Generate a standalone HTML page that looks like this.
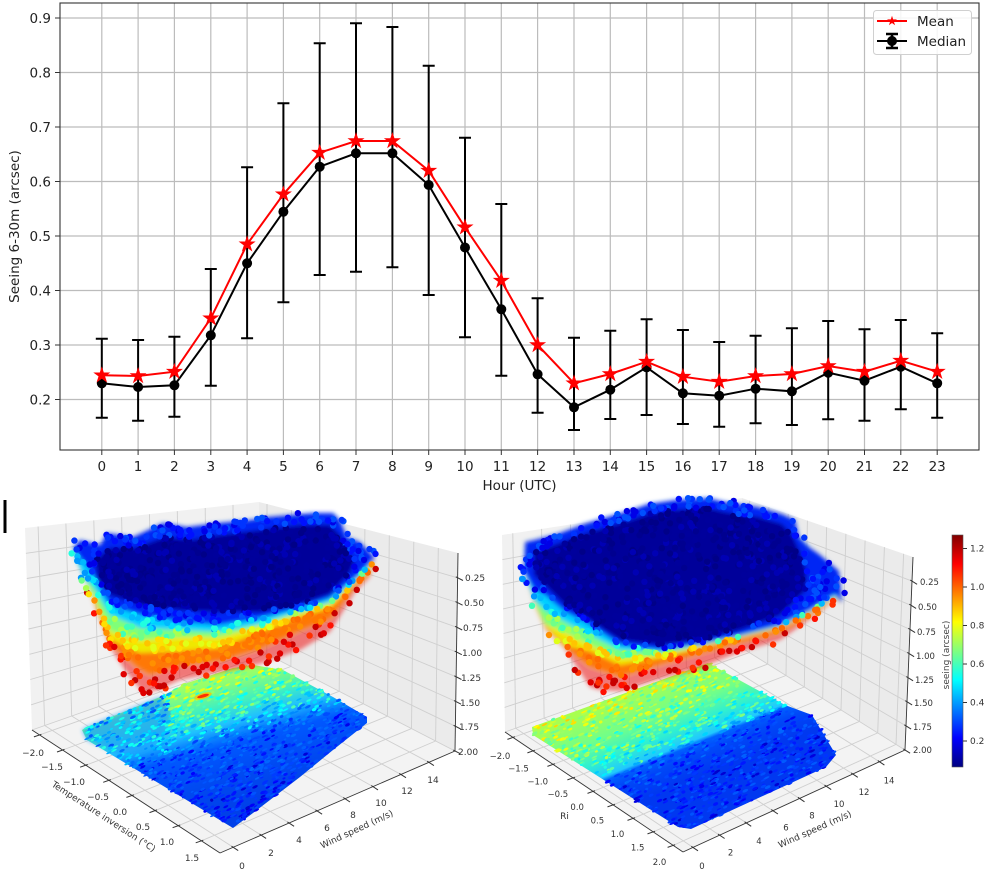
<!DOCTYPE html>
<html><head><meta charset="utf-8">
<style>
html,body{margin:0;padding:0;background:#fff;}
svg{display:block;font-family:"DejaVu Sans","Liberation Sans",sans-serif;}
</style></head><body>
<svg id="s" width="994" height="878" viewBox="0 0 994 878" xmlns="http://www.w3.org/2000/svg">
<defs>
 <path id="star" d="M0,-8L1.8,-2.48L7.61,-2.47L2.91,0.95L4.7,6.47L0,3.06L-4.7,6.47L-2.91,0.95L-7.61,-2.47L-1.8,-2.48Z"/>
 <filter id="bl" x="-10%" y="-10%" width="120%" height="120%"><feGaussianBlur stdDeviation="2"/></filter>
 <linearGradient id="fgL" gradientUnits="userSpaceOnUse" x1="200" y1="665" x2="240" y2="811">
  <stop offset="0" stop-color="#c8ff40"/><stop offset="0.15" stop-color="#90ff70"/><stop offset="0.3" stop-color="#40f0c0"/>
  <stop offset="0.42" stop-color="#20c0ff"/><stop offset="0.5" stop-color="#0a80ff"/><stop offset="0.56" stop-color="#0058ff"/>
  <stop offset="0.8" stop-color="#0048f0"/><stop offset="1" stop-color="#0040e8"/>
 </linearGradient>
 <linearGradient id="fgR" gradientUnits="userSpaceOnUse" x1="640" y1="690" x2="678" y2="784">
  <stop offset="0" stop-color="#a8ff50"/><stop offset="0.3" stop-color="#70ff8a"/><stop offset="0.5" stop-color="#30f0d0"/>
  <stop offset="0.66" stop-color="#20c8ff"/><stop offset="0.7" stop-color="#0060ff"/><stop offset="0.8" stop-color="#0048f8"/>
  <stop offset="1" stop-color="#0038f0"/>
 </linearGradient>
 <linearGradient id="cb" x1="0" y1="1" x2="0" y2="0">
  <stop offset="0" stop-color="#000080"/><stop offset="0.125" stop-color="#0000ff"/><stop offset="0.375" stop-color="#00ffff"/>
  <stop offset="0.625" stop-color="#ffff00"/><stop offset="0.875" stop-color="#ff0000"/><stop offset="1" stop-color="#800000"/>
 </linearGradient>
</defs>
<rect width="994" height="878" fill="#fff"/>

<!-- ================= TOP CHART ================= -->
<path d="M101.8,3V450M138.1,3V450M174.4,3V450M210.8,3V450M247.1,3V450M283.4,3V450M319.7,3V450M356,3V450M392.4,3V450M428.7,3V450M465,3V450M501.3,3V450M537.6,3V450M574,3V450M610.3,3V450M646.6,3V450M682.9,3V450M719.2,3V450M755.6,3V450M791.9,3V450M828.2,3V450M864.5,3V450M900.8,3V450M937.2,3V450" stroke="#bcbcbc" stroke-width="1.2" fill="none"/>
<path d="M60,399.5H979M60,345H979M60,290.5H979M60,236H979M60,181.5H979M60,127H979M60,72.5H979M60,18H979" stroke="#bcbcbc" stroke-width="1.2" fill="none"/>
<rect x="60" y="3" width="919" height="447" fill="none" stroke="#333" stroke-width="1.1"/>
<path d="M101.8,450v5M138.1,450v5M174.4,450v5M210.8,450v5M247.1,450v5M283.4,450v5M319.7,450v5M356,450v5M392.4,450v5M428.7,450v5M465,450v5M501.3,450v5M537.6,450v5M574,450v5M610.3,450v5M646.6,450v5M682.9,450v5M719.2,450v5M755.6,450v5M791.9,450v5M828.2,450v5M864.5,450v5M900.8,450v5M937.2,450v5M55,399.5h5M55,345h5M55,290.5h5M55,236h5M55,181.5h5M55,127h5M55,72.5h5M55,18h5" stroke="#333" stroke-width="1"/>
<g font-size="13.5" fill="#222" text-anchor="end">
 <text x="51" y="404.5">0.2</text><text x="51" y="350">0.3</text><text x="51" y="295.5">0.4</text><text x="51" y="241">0.5</text>
 <text x="51" y="186.5">0.6</text><text x="51" y="132">0.7</text><text x="51" y="77.5">0.8</text><text x="51" y="23">0.9</text>
</g>
<g font-size="13.5" fill="#222" text-anchor="middle">
 <text x="101.8" y="471">0</text><text x="138.1" y="471">1</text><text x="174.4" y="471">2</text><text x="210.8" y="471">3</text>
 <text x="247.1" y="471">4</text><text x="283.4" y="471">5</text><text x="319.7" y="471">6</text><text x="356" y="471">7</text>
 <text x="392.4" y="471">8</text><text x="428.7" y="471">9</text><text x="465" y="471">10</text><text x="501.3" y="471">11</text>
 <text x="537.6" y="471">12</text><text x="574" y="471">13</text><text x="610.3" y="471">14</text><text x="646.6" y="471">15</text>
 <text x="682.9" y="471">16</text><text x="719.2" y="471">17</text><text x="755.6" y="471">18</text><text x="791.9" y="471">19</text>
 <text x="828.2" y="471">20</text><text x="864.5" y="471">21</text><text x="900.8" y="471">22</text><text x="937.2" y="471">23</text>
 <text x="519.5" y="490">Hour (UTC)</text>
 <text transform="translate(19,226.5) rotate(-90)">Seeing 6-30m (arcsec)</text>
</g>
<!-- error bars -->
<path fill="none" stroke="#000" stroke-width="2" d="M101.8,338.7V417.7M95.8,338.7H107.8M95.8,417.7H107.8M138.1,340V420.7M132.1,340H144.1M132.1,420.7H144.1M174.4,336.7V416.7M168.4,336.7H180.4M168.4,416.7H180.4M210.8,269V385.7M204.8,269H216.8M204.8,385.7H216.8M247.1,167.3V338.3M241.1,167.3H253.1M241.1,338.3H253.1M283.4,103.3V302.3M277.4,103.3H289.4M277.4,302.3H289.4M319.7,43.3V275M313.7,43.3H325.7M313.7,275H325.7M356,23.3V271.7M350,23.3H362M350,271.7H362M392.4,27V267.3M386.4,27H398.4M386.4,267.3H398.4M428.7,65.7V295M422.7,65.7H434.7M422.7,295H434.7M465,137.7V337.3M459,137.7H471M459,337.3H471M501.3,204V375.7M495.3,204H507.3M495.3,375.7H507.3M537.6,298.3V412.7M531.6,298.3H543.6M531.6,412.7H543.6M574,337.7V430M568,337.7H580M568,430H580M610.3,330.7V419M604.3,330.7H616.3M604.3,419H616.3M646.6,319.3V415M640.6,319.3H652.6M640.6,415H652.6M682.9,330V424M676.9,330H688.9M676.9,424H688.9M719.2,342V426.7M713.2,342H725.2M713.2,426.7H725.2M755.6,335.7V423.3M749.6,335.7H761.6M749.6,423.3H761.6M791.9,328.3V425M785.9,328.3H797.9M785.9,425H797.9M828.2,321V419.3M822.2,321H834.2M822.2,419.3H834.2M864.5,329.3V420.7M858.5,329.3H870.5M858.5,420.7H870.5M900.8,320V409.3M894.8,320H906.8M894.8,409.3H906.8M937.2,333.3V417.7M931.2,333.3H943.2M931.2,417.7H943.2"/>
<polyline fill="none" stroke="#000" stroke-width="2" points="101.8,383.3 138.1,387 174.4,385.3 210.8,335.3 247.1,263.3 283.4,211.7 319.7,166.7 356,153.3 392.4,153.3 428.7,185 465,247.5 501.3,309.3 537.6,374.3 574,407.3 610.3,389.7 646.6,367.3 682.9,393.3 719.2,395.7 755.6,388.7 791.9,391.3 828.2,372.7 864.5,380.7 900.8,366.7 937.2,383.3"/>
<g fill="#000">
 <circle cx="101.8" cy="383.3" r="5"/><circle cx="138.1" cy="387" r="5"/><circle cx="174.4" cy="385.3" r="5"/><circle cx="210.8" cy="335.3" r="5"/>
 <circle cx="247.1" cy="263.3" r="5"/><circle cx="283.4" cy="211.7" r="5"/><circle cx="319.7" cy="166.7" r="5"/><circle cx="356" cy="153.3" r="5"/>
 <circle cx="392.4" cy="153.3" r="5"/><circle cx="428.7" cy="185" r="5"/><circle cx="465" cy="247.5" r="5"/><circle cx="501.3" cy="309.3" r="5"/>
 <circle cx="537.6" cy="374.3" r="5"/><circle cx="574" cy="407.3" r="5"/><circle cx="610.3" cy="389.7" r="5"/><circle cx="646.6" cy="367.3" r="5"/>
 <circle cx="682.9" cy="393.3" r="5"/><circle cx="719.2" cy="395.7" r="5"/><circle cx="755.6" cy="388.7" r="5"/><circle cx="791.9" cy="391.3" r="5"/>
 <circle cx="828.2" cy="372.7" r="5"/><circle cx="864.5" cy="380.7" r="5"/><circle cx="900.8" cy="366.7" r="5"/><circle cx="937.2" cy="383.3" r="5"/>
</g>
<polyline fill="none" stroke="#ff0000" stroke-width="2" points="101.8,375.3 138.1,376 174.4,371.7 210.8,318.3 247.1,244.3 283.4,194.3 319.7,152.7 356,141 392.4,141 428.7,170.7 465,227.3 501.3,280.7 537.6,345 574,383.3 610.3,374 646.6,361.7 682.9,376.7 719.2,381.7 755.6,376 791.9,374 828.2,366 864.5,371.7 900.8,360.7 937.2,371.7"/>
<g fill="#ff0000" stroke="#ff0000" stroke-width="0.6">
 <use href="#star" x="101.8" y="375.3"/><use href="#star" x="138.1" y="376"/><use href="#star" x="174.4" y="371.7"/><use href="#star" x="210.8" y="318.3"/>
 <use href="#star" x="247.1" y="244.3"/><use href="#star" x="283.4" y="194.3"/><use href="#star" x="319.7" y="152.7"/><use href="#star" x="356" y="141"/>
 <use href="#star" x="392.4" y="141"/><use href="#star" x="428.7" y="170.7"/><use href="#star" x="465" y="227.3"/><use href="#star" x="501.3" y="280.7"/>
 <use href="#star" x="537.6" y="345"/><use href="#star" x="574" y="383.3"/><use href="#star" x="610.3" y="374"/><use href="#star" x="646.6" y="361.7"/>
 <use href="#star" x="682.9" y="376.7"/><use href="#star" x="719.2" y="381.7"/><use href="#star" x="755.6" y="376"/><use href="#star" x="791.9" y="374"/>
 <use href="#star" x="828.2" y="366"/><use href="#star" x="864.5" y="371.7"/><use href="#star" x="900.8" y="360.7"/><use href="#star" x="937.2" y="371.7"/>
</g>
<!-- legend -->
<rect x="873.5" y="10.5" width="98" height="44" rx="3" fill="#fff" fill-opacity="0.85" stroke="#d0d0d0"/>
<line x1="877" y1="21" x2="907" y2="21" stroke="#ff0000" stroke-width="2"/>
<use href="#star" transform="translate(892,21) scale(0.65)" fill="#ff0000"/>
<line x1="877" y1="41" x2="907" y2="41" stroke="#000" stroke-width="2"/>
<path d="M892,34V48M886,34H898M886,48H898" stroke="#000" stroke-width="2.5" fill="none"/>
<circle cx="892" cy="41" r="5" fill="#000"/>
<text x="917" y="26" font-size="13.5" fill="#222">Mean</text>
<text x="917" y="46" font-size="13.5" fill="#222">Median</text>

<rect x="3.5" y="500" width="3" height="33" fill="#000"/>

<!-- ================= LEFT 3D PANEL ================= -->
<polygon points="25,528 259,502 259,650 32,730" fill="#f1f1f1"/>
<polygon points="259,502 458,553 455,751 259,650" fill="#ebebeb"/>
<polygon points="32,730 259,650 455,751 220,853" fill="#f3f3f3"/>
<g id="gridL"></g>
<polygon id="floorL" points="82,730 87,727 160,697 187,683 233,668 253,665 283,670 333,697 367,717 367,723 333,750 300,777 253,813 233,828 87,740" fill="url(#fgL)"/>
<polygon points="82,730 87,727 130,709 160,697 172,712 165,735 145,752 120,755 87,740" fill="#1a9cff" opacity="0.7" filter="url(#bl)"/>
<g id="spkL"></g>
<ellipse cx="203" cy="696" rx="9" ry="3" fill="#ffc000" opacity="0.8" transform="rotate(-15 203 696)"/>
<ellipse cx="203" cy="696" rx="6" ry="1.6" fill="#ff3000" transform="rotate(-15 203 696)"/>
<g filter="url(#bl)">
 <polygon id="cLred" fill="#f00000" fill-opacity="0.5" points="73,548 80,540 100,545 107,533 133,537 163,523 187,527 217,523 250,520 267,517 313,513 333,513 340,520 347,537 360,542 375,558 370,577 355,592 330,632 300,650 260,664 220,672 180,680 157,690 143,693 125,670 110,647 97,612 90,592 78,565"/>
 <polygon id="cLora" fill="#ff7800" fill-opacity="0.95" points="73,548 80,540 100,545 107,533 133,537 163,523 187,527 217,523 250,520 267,517 313,513 333,513 340,520 347,537 360,542 375,558 368,575 355,586 330,618 300,630 260,648 220,660 180,665 150,674 138,667 110,643 96,606 90,589 78,563"/>
 <polygon id="cLyel" fill="#f0e800" points="73,548 80,540 100,545 107,533 133,537 163,523 187,527 217,523 250,520 267,517 313,513 333,513 340,520 347,537 360,542 375,558 367,573 355,583 330,608 300,617 260,632 220,648 180,651 140,653 110,639 95,601 88,586 77,562"/>
 <polygon id="cLgre" fill="#80ff78" points="73,548 80,540 100,545 107,533 133,537 163,523 187,527 217,523 250,520 267,517 313,513 333,513 340,520 347,537 360,542 375,558 366,572 355,581 330,604 300,613 260,626 220,637 180,637 140,640 110,631 94,596 86,582 76,560"/>
 <polygon id="cLcya" fill="#00d0ff" points="73,548 80,540 100,545 107,533 133,537 163,523 187,527 217,523 250,520 267,517 313,513 333,513 340,520 347,537 360,542 375,558 365,571 355,580 330,602 300,611 260,624 220,632 180,630 140,628 110,615 92,585 84,578 75,556"/>
 <polygon id="cLblu" fill="#0028f4" points="73,548 80,540 100,545 107,533 133,537 163,523 187,527 217,523 250,520 267,517 313,513 333,513 340,520 347,537 360,542 375,558 363,570 355,578 330,598 300,608 260,618 220,625 180,622 140,615 110,605 90,570 80,558"/>
 <polygon id="cLnav" fill="#00009a" points="95,560 110,548 135,548 165,537 190,540 220,535 260,530 300,525 330,525 340,535 345,550 355,560 350,572 330,594 300,604 260,612 220,612 180,610 140,605 110,595 98,580"/>
</g>
<g id="dotsL"></g>
<g stroke="#333" stroke-width="0.9" fill="none">
 <line x1="32" y1="730" x2="220" y2="853"/><line x1="220" y1="853" x2="455" y2="751"/><line x1="458" y1="553" x2="455" y2="751"/>
</g>
<g id="tkL"></g>
<g font-size="9" fill="#333" text-anchor="middle">
 <text x="33" y="756">−2.0</text><text x="52" y="770">−1.5</text><text x="74" y="785">−1.0</text><text x="98" y="800">−0.5</text>
 <text x="120" y="815">0.0</text><text x="143" y="830">0.5</text><text x="167" y="845">1.0</text><text x="192" y="861">1.5</text>
 <text x="242" y="869">0</text><text x="271" y="856">2</text><text x="299" y="843">4</text><text x="327" y="831">6</text>
 <text x="353" y="818">8</text><text x="381" y="806">10</text><text x="407" y="794">12</text><text x="433" y="783">14</text>
 <text transform="translate(102,819) rotate(33)">Temperature inversion (°C)</text>
 <text transform="translate(358,832) rotate(-25)">Wind speed (m/s)</text>
</g>
<g font-size="9" fill="#333">
 <text x="465" y="581">0.25</text><text x="464" y="606">0.50</text><text x="463" y="631">0.75</text><text x="462" y="656">1.00</text>
 <text x="461" y="681">1.25</text><text x="460" y="706">1.50</text><text x="459" y="730">1.75</text><text x="458" y="755">2.00</text>
</g>

<!-- ================= RIGHT 3D PANEL ================= -->
<polygon points="502,535 742,498 742,648 505,732" fill="#f1f1f1"/>
<polygon points="742,498 913,557 905,750 742,648" fill="#ebebeb"/>
<polygon points="505,732 742,648 905,750 683,852" fill="#f3f3f3"/>
<g id="gridR"></g>
<polygon id="floorR" points="532,727 708,663 785,705 812,715 836,755 826,767 691,829 678,827 533,735" fill="url(#fgR)"/>
<g id="spkR"></g>
<g filter="url(#bl)">
 <polygon id="cRred" fill="#f00000" fill-opacity="0.5" points="524,571 525,542 534,540 557,534 584,524 607,517 631,510 648,504 675,500 708,498 725,502 758,507 782,514 795,520 799,537 809,547 819,554 839,571 842,603 835,600 810,619 780,640 740,652 700,668 660,679 620,691 600,690 590,687 565,649 545,629 534,604"/>
 <polygon id="cRora" fill="#ff7800" fill-opacity="0.95" points="524,571 525,542 534,540 557,534 584,524 607,517 631,510 648,504 675,500 708,498 725,502 758,507 782,514 795,520 799,537 809,547 819,554 839,571 842,603 835,599 810,615 780,632 740,642 700,653 660,664 620,676 590,666 565,646 545,626 534,603"/>
 <polygon id="cRyel" fill="#f0e800" points="524,571 525,542 534,540 557,534 584,524 607,517 631,510 648,504 675,500 708,498 725,502 758,507 782,514 795,520 799,537 809,547 819,554 839,571 842,603 835,598 810,613 780,628 740,638 700,648 660,658 620,665 590,651 565,645 545,625 534,602"/>
 <polygon id="cRgre" fill="#80ff78" points="524,571 525,542 534,540 557,534 584,524 607,517 631,510 648,504 675,500 708,498 725,502 758,507 782,514 795,520 799,537 809,547 819,554 839,571 842,603 835,597 810,612 780,627 740,637 700,646 660,655 620,658 590,645 565,632 545,624 534,601"/>
 <polygon id="cRcya" fill="#00d0ff" points="524,571 525,542 534,540 557,534 584,524 607,517 631,510 648,504 675,500 708,498 725,502 758,507 782,514 795,520 799,537 809,547 819,554 839,571 842,603 835,596 810,611 780,626 740,636 700,645 660,652 620,650 590,635 565,622 545,610 534,600"/>
 <polygon id="cRblu" fill="#0028f4" points="524,571 525,542 534,540 557,534 584,524 607,517 631,510 648,504 675,500 708,498 725,502 758,507 782,514 795,520 799,537 809,547 819,554 839,571 842,603 835,594 810,610 780,625 740,635 700,644 660,650 620,645 590,625 565,612 545,595 534,590"/>
 <polygon id="cRnav" fill="#00009a" points="534,552 557,544 584,534 607,527 631,520 648,514 675,510 708,508 725,512 758,517 782,524 792,535 800,552 806,570 806,590 780,615 740,630 700,640 660,645 620,640 590,620 565,605 545,585 534,575"/>
</g>
<g id="dotsR"></g>
<g stroke="#333" stroke-width="0.9" fill="none">
 <line x1="505" y1="732" x2="683" y2="852"/><line x1="683" y1="852" x2="905" y2="750"/><line x1="913" y1="557" x2="905" y2="750"/>
</g>
<g id="tkR"></g>
<g font-size="8.5" fill="#333" text-anchor="middle">
 <text x="500" y="759">−2.0</text><text x="518.5" y="771.7">−1.5</text><text x="537.7" y="784.4">−1.0</text><text x="557.8" y="796.8">−0.5</text>
 <text x="577.2" y="810.2">0.0</text><text x="597.4" y="823.7">0.5</text><text x="617.5" y="837.1">1.0</text><text x="637.7" y="850.5">1.5</text>
 <text x="659.5" y="865">2.0</text>
 <text x="702" y="869">0</text><text x="730.6" y="855.6">2</text><text x="759" y="843.8">4</text><text x="786" y="830.4">6</text>
 <text x="812" y="818.6">8</text><text x="839" y="806.9">10</text><text x="864" y="795">12</text><text x="889" y="783.4">14</text>
 <text x="564.5" y="819" font-size="9">Ri</text>
 <text transform="translate(816,832) rotate(-24)" font-size="9">Wind speed (m/s)</text>
</g>
<g font-size="8.5" fill="#333">
 <text x="920" y="585">0.25</text><text x="918" y="610">0.50</text><text x="917" y="635">0.75</text><text x="916" y="659">1.00</text>
 <text x="915" y="683">1.25</text><text x="914" y="706">1.50</text><text x="913" y="730">1.75</text><text x="913" y="753">2.00</text>
</g>
<!-- colorbar -->
<rect x="952" y="535" width="11" height="232" fill="url(#cb)" stroke="#555" stroke-width="0.6"/>
<path d="M963,548.5h4M963,587h4M963,625.5h4M963,664h4M963,702.5h4M963,741h4" stroke="#333" stroke-width="0.9"/>
<g font-size="9" fill="#333">
 <text x="970" y="551.7">1.2</text><text x="970" y="590.2">1.0</text><text x="970" y="628.7">0.8</text>
 <text x="970" y="667.2">0.6</text><text x="970" y="705.7">0.4</text><text x="970" y="744.2">0.2</text>
 <text transform="translate(949,655) rotate(-90)" text-anchor="middle" fill="#444">seeing (arcsec)</text>
</g>
</svg>
<script>
(function(){
const NS='http://www.w3.org/2000/svg';
function el(tag,a,p){const e=document.createElementNS(NS,tag);for(const k in a)e.setAttribute(k,a[k]);p.appendChild(e);return e;}
function L(a,b,t){return[a[0]+(b[0]-a[0])*t,a[1]+(b[1]-a[1])*t];}
function seg(g,p,q,c,w){el('line',{x1:p[0].toFixed(1),y1:p[1].toFixed(1),x2:q[0].toFixed(1),y2:q[1].toFixed(1),stroke:c,'stroke-width':w},g);}
function nrm(v){const l=Math.hypot(v[0],v[1]);return[v[0]/l,v[1]/l];}
function tick(g,p,d){seg(g,[p[0]-d[0]*2,p[1]-d[1]*2],[p[0]+d[0]*6,p[1]+d[1]*6],'#333',1);}
let seed=12345;function rnd(){seed=(seed*16807)%2147483647;return (seed-1)/2147483646;}
function pts(id){return document.getElementById(id).getAttribute('points').trim().split(/\s+/).map(s=>s.split(',').map(Number));}
function inside(p,poly){let c=false;for(let i=0,j=poly.length-1;i<poly.length;j=i++){const a=poly[i],b=poly[j];if(((a[1]>p[1])!=(b[1]>p[1]))&&(p[0]<(b[0]-a[0])*(p[1]-a[1])/(b[1]-a[1])+a[0]))c=!c;}return c;}
function jet(v){v=Math.max(0,Math.min(1,v));const cl=x=>Math.round(255*Math.max(0,Math.min(1,x)));return 'rgb('+cl(1.5-Math.abs(4*v-3))+','+cl(1.5-Math.abs(4*v-2))+','+cl(1.5-Math.abs(4*v-1))+')';}
function pw(t,tab){if(t<=tab[0][0])return tab[0][1];for(let i=1;i<tab.length;i++){if(t<=tab[i][0]){const a=tab[i-1],b=tab[i];return a[1]+(b[1]-a[1])*(t-a[0])/(b[0]-a[0]);}}return tab[tab.length-1][1];}
function scale(poly,c,s){return poly.map(p=>[c[0]+(p[0]-c[0])*s,c[1]+(p[1]-c[1])*s]);}
const rng=(n,a,b)=>[...Array(n)].map((_,k)=>a+b*k);
const panels=[
 {id:'L',TL:[25,528],TB:[259,502],TR:[458,553],Lc:[32,730],B:[259,650],R:[455,751],F:[220,853],
  uT:rng(8,0.04,0.123),uW:rng(8,0.056,0.119),
  fl:{p1:[200,665],p2:[240,811],tab:[[0,0.56],[0.15,0.52],[0.3,0.45],[0.42,0.36],[0.5,0.27],[0.56,0.21],[1,0.17]],cut:0.5}},
 {id:'R',TL:[502,535],TB:[742,498],TR:[913,557],Lc:[505,732],B:[742,648],R:[905,750],F:[683,852],
  uT:rng(9,0.045,0.1125),uW:rng(8,0.045,0.12),
  fl:{p1:[640,690],p2:[678,784],tab:[[0,0.57],[0.3,0.5],[0.5,0.44],[0.66,0.37],[0.7,0.21],[1,0.18]],cut:0.69}}
];
const zs=rng(8,0.125,0.125);
panels.forEach(P=>{
 const g=document.getElementById('grid'+P.id),gc='#cfcfcf',gw=0.9;
 P.uW.forEach(u=>seg(g,L(P.TL,P.TB,u),L(P.Lc,P.B,u),gc,gw));
 zs.forEach(v=>seg(g,L(P.TL,P.Lc,v),L(P.TB,P.B,v),gc,gw));
 P.uT.forEach(u=>seg(g,L(P.TB,P.TR,u),L(P.B,P.R,u),gc,gw));
 zs.forEach(v=>seg(g,L(P.TB,P.B,v),L(P.TR,P.R,v),gc,gw));
 P.uW.forEach(u=>seg(g,L(P.Lc,P.B,u),L(P.F,P.R,u),gc,gw));
 P.uT.forEach(u=>seg(g,L(P.Lc,P.F,u),L(P.B,P.R,u),gc,gw));
 const a=document.getElementById('tk'+P.id);
 const dT=nrm([P.Lc[0]-P.B[0],P.Lc[1]-P.B[1]]);
 P.uT.forEach(u=>tick(a,L(P.Lc,P.F,u),dT));
 const dW=nrm([P.F[0]-P.Lc[0],P.F[1]-P.Lc[1]]);
 P.uW.forEach(u=>tick(a,L(P.F,P.R,u),dW));
 const dZ=nrm([P.R[0]-P.B[0],P.R[1]-P.B[1]]);
 zs.forEach(v=>tick(a,L(P.TR,P.R,v),dZ));
 // floor speckles
 const fp=pts('floor'+P.id),fg=document.getElementById('spk'+P.id);
 const f=P.fl,d=[f.p2[0]-f.p1[0],f.p2[1]-f.p1[1]],dd=d[0]*d[0]+d[1]*d[1];
 let xs=fp.map(p=>p[0]),ys=fp.map(p=>p[1]);
 const x0=Math.min(...xs),x1=Math.max(...xs),y0=Math.min(...ys),y1=Math.max(...ys);
 let n=0,guard=0;
 while(n<1400&&guard<100000){guard++;const p=[x0+rnd()*(x1-x0),y0+rnd()*(y1-y0)];if(!inside(p,fp))continue;n++;
  const t=((p[0]-f.p1[0])*d[0]+(p[1]-f.p1[1])*d[1])/dd;
  let v=pw(t,f.tab);
  if(P.id==='L'&&p[0]<170&&t<0.5)v=Math.min(v,0.31);
  const up=t<f.cut;
  v+=up?(rnd()-0.5)*0.22:(rnd()-0.5)*0.08;
  if(!up&&rnd()<0.2)v-=0.07;
  const cx=p[0].toFixed(1),cy=p[1].toFixed(1);
  el('ellipse',{cx:cx,cy:cy,rx:(1.5+rnd()*2).toFixed(1),ry:(0.8+rnd()*0.8).toFixed(1),fill:jet(v),transform:'rotate(-25 '+cx+' '+cy+')'},fg);
 }
 // cloud dots
 const names=['red','ora','yel','gre','cya','blu','nav'];
 const pal={red:['#ff1000','#e00000','#c80000','#ff3000'],ora:['#ff9000','#ff6a00','#ff7800'],yel:['#e0ff18','#ffe000','#ffc400'],gre:['#70ff88','#a8ff50','#40ffb8'],cya:['#00b8ff','#00dcff','#20ffe0','#0098ff'],blu:['#0000e8','#0010ff','#0034ff','#0050ff'],nav:['#000088','#00009c','#0000b4','#000090']};
 const layers=names.map(nm=>pts('c'+P.id+nm));
 const out=layers[0];let cx=0,cy=0;out.forEach(p=>{cx+=p[0];cy+=p[1];});cx/=out.length;cy/=out.length;
 const ex=layers.map(l=>scale(l,[cx,cy],1.03));
 const cg=document.getElementById('dots'+P.id);
 xs=ex[0].map(p=>p[0]);ys=ex[0].map(p=>p[1]);
 const bx0=Math.min(...xs),bx1=Math.max(...xs),by0=Math.min(...ys),by1=Math.max(...ys);
 n=0;guard=0;
 while(n<950&&guard<100000){guard++;const p=[bx0+rnd()*(bx1-bx0),by0+rnd()*(by1-by0)];if(!inside(p,ex[0]))continue;n++;
  const inOut=inside(p,layers[0]);
  const src=inOut?layers:ex;
  let k=0;for(let i=6;i>=0;i--){if(inside(p,src[i])){k=i;break;}}
  if(!inOut&&rnd()<0.45)continue;
  if(k===0&&rnd()<0.25)continue;
  const arr=pal[names[k]];
  el('circle',{cx:p[0].toFixed(1),cy:p[1].toFixed(1),r:3.2,fill:arr[Math.floor(rnd()*arr.length)]},cg);
 }
});
})();
</script>
</body></html>
